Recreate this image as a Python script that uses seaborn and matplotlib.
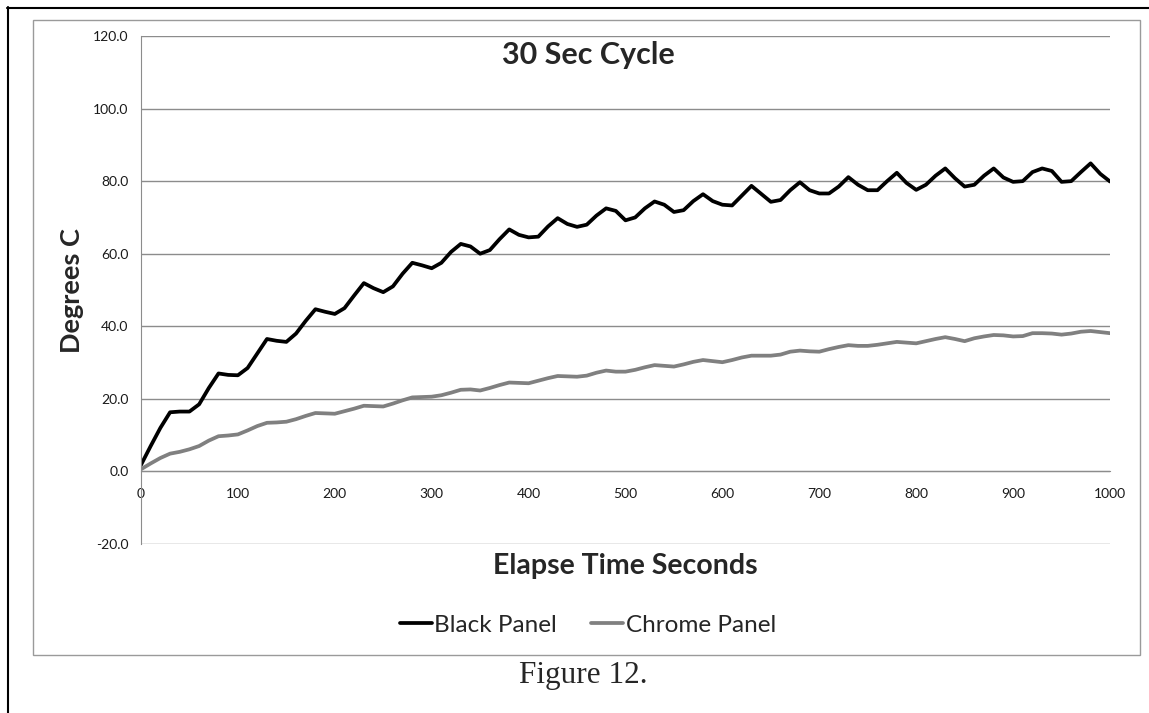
import pandas as pd
import seaborn as sns
import matplotlib.pyplot as plt
from matplotlib.patches import Rectangle
from matplotlib.lines import Line2D

# time in seconds, sampled every 10 s
seconds = list(range(0, 1001, 10))

black_panel = [
    1.8, 7.0, 12.0, 16.3, 16.5, 16.5, 18.5, 23.0, 27.0, 26.6,
    26.5, 28.5, 32.5, 36.5, 36.0, 35.7, 38.0, 41.5, 44.7, 44.0,
    43.4, 45.0, 48.5, 51.9, 50.5, 49.4, 51.0, 54.5, 57.5, 56.8,
    56.0, 57.5, 60.5, 62.7, 62.0, 60.0, 61.0, 64.0, 66.7, 65.2,
    64.5, 64.7, 67.5, 69.8, 68.2, 67.4, 68.0, 70.5, 72.5, 71.8,
    69.2, 70.0, 72.5, 74.4, 73.5, 71.5, 72.0, 74.5, 76.4, 74.5,
    73.5, 73.3, 76.0, 78.7, 76.5, 74.3, 74.8, 77.5, 79.7, 77.5,
    76.6, 76.6, 78.5, 81.1, 79.0, 77.5, 77.5, 80.0, 82.3, 79.5,
    77.6, 79.0, 81.5, 83.5, 80.8, 78.5, 79.0, 81.5, 83.5, 81.0,
    79.8, 80.0, 82.5, 83.5, 82.8, 79.8, 80.0, 82.5, 84.9, 82.0,
    79.9,
]

chrome_panel = [
    0.6, 2.2, 3.7, 4.9, 5.4, 6.1, 7.0, 8.5, 9.7, 9.9,
    10.2, 11.3, 12.5, 13.4, 13.5, 13.7, 14.4, 15.3, 16.1, 16.0,
    15.9, 16.6, 17.3, 18.1, 18.0, 17.9, 18.7, 19.6, 20.4, 20.5,
    20.6, 21.0, 21.7, 22.5, 22.6, 22.3, 23.0, 23.8, 24.5, 24.4,
    24.3, 25.0, 25.7, 26.3, 26.2, 26.1, 26.4, 27.2, 27.8, 27.5,
    27.5, 28.0, 28.7, 29.3, 29.1, 28.9, 29.5, 30.2, 30.7, 30.4,
    30.1, 30.7, 31.4, 31.9, 31.9, 31.9, 32.2, 33.0, 33.3, 33.1,
    33.0, 33.7, 34.3, 34.8, 34.6, 34.6, 34.9, 35.3, 35.7, 35.5,
    35.3, 35.9, 36.5, 37.0, 36.5, 35.9, 36.7, 37.2, 37.6, 37.5,
    37.2, 37.3, 38.1, 38.1, 38.0, 37.7, 38.0, 38.5, 38.7, 38.4,
    38.1,
]

series_names = ["Black Panel", "Chrome Panel"]
y_ticks = [-20, 0, 20, 40, 60, 80, 100, 120]
x_ticks = list(range(0, 1001, 100))

df = pd.DataFrame({
    "Seconds": seconds * 2,
    "Degrees": black_panel + chrome_panel,
    "Series": [series_names[0]] * len(seconds) + [series_names[1]] * len(seconds),
})

sns.set_style("white")
plt.rcParams["font.family"] = ["Lato", "DejaVu Sans"]

W, H = 1149, 713
fig = plt.figure(figsize=(W / 100, H / 100), dpi=100)

def fx(px):
    return px / W

def fy(py):
    return 1 - py / H

# frames around the chart
fig.add_artist(Line2D([fx(7.5), fx(7.5)], [fy(7), 0], color="black", lw=1.5))
fig.add_artist(Line2D([fx(7), 1], [fy(7.5), fy(7.5)], color="black", lw=1.5))
fig.add_artist(Rectangle((fx(33), fy(655)), fx(1140) - fx(33), fy(20) - fy(655),
                         fill=False, edgecolor="#9a9a9a", lw=1))

ax = fig.add_axes([fx(141), fy(544), fx(1110) - fx(141), fy(36) - fy(544)])

sns.lineplot(data=df, x="Seconds", y="Degrees", hue="Series",
             palette={"Black Panel": "black", "Chrome Panel": "#808080"},
             linewidth=2.7, ax=ax, legend=False,
             solid_joinstyle="round", solid_capstyle="round")

ax.set_xlim(0, 1000)
ax.set_ylim(-20, 120)
ax.set_yticks(y_ticks)
ax.set_yticklabels([f"{v:.1f}" for v in y_ticks])
ax.set_xticks(x_ticks)
ax.set_xticklabels([str(v) for v in x_ticks])

ax.grid(axis="y", color="#8c8c8c", lw=1)
ax.set_axisbelow(True)
for side in ["top", "right"]:
    ax.spines[side].set_visible(False)
ax.spines["left"].set_color("#8c8c8c")
ax.spines["bottom"].set_color("#8c8c8c")
ax.spines["bottom"].set_position(("data", 0))
ax.tick_params(axis="both", length=4, color="#8c8c8c", labelsize=10,
               labelcolor="#1a1a1a", direction="out", width=1)
ax.tick_params(axis="x", pad=8)
ax.tick_params(axis="y", pad=5)

ax.set_xlabel("")
ax.set_ylabel("")

fig.text(fx(588), fy(55), "30 Sec Cycle", ha="center", va="center",
         fontsize=22, fontweight="bold")
fig.text(fx(72), fy(291), "Degrees C", ha="center", va="center",
         rotation=90, fontsize=19.5, fontweight="bold")
fig.text(fx(625), fy(566), "Elapse Time Seconds", ha="center", va="center",
         fontsize=20.5, fontweight="bold")

handles = [Line2D([], [], color="black", lw=2.7),
           Line2D([], [], color="#808080", lw=2.7)]
fig.legend(handles, series_names, loc="center", bbox_to_anchor=(fx(588), fy(625)),
           ncol=2, frameon=False, fontsize=17.5, handlelength=1.3,
           handletextpad=0.12, columnspacing=1.4)

fig.text(fx(583), fy(675), "Figure 12.", ha="center", va="center",
         fontsize=22.5, family=["Liberation Serif", "DejaVu Serif"])

fig.savefig("out.png", dpi=100)
